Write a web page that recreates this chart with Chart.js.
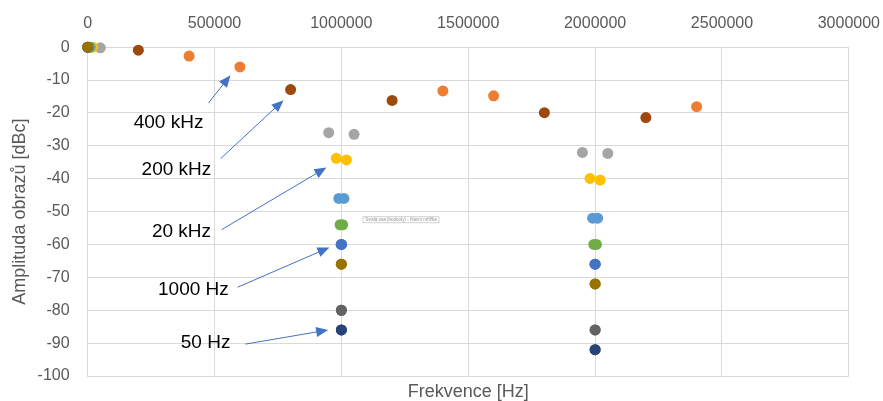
<!DOCTYPE html>
<html>
<head>
<meta charset="utf-8">
<script src="https://cdn.jsdelivr.net/npm/chart.js@4.4.1/dist/chart.umd.min.js"></script>
<style>
  html, body { margin: 0; padding: 0; background: #fff; }
  #wrap { width: 883px; height: 401px; }
</style>
</head>
<body>
<div id="wrap"><canvas id="Chart"></canvas></div>
<script>
// frequency [Hz] and image amplitude [dBc] per modulating frequency
var f1000x = [1000, 999000, 1001000, 1999000, 2001000];
var f1000y = [0, -60, -60, -66, -66];
var f400kx = [400000, 600000, 1400000, 1600000, 2400000];
var f400ky = [-2.7, -6, -13.3, -14.8, -18.1];
var f50kx = [50000, 950000, 1050000, 1950000, 2050000];
var f50ky = [-0.2, -26, -26.5, -32, -32.3];
var f20kx = [20000, 980000, 1020000, 1980000, 2020000];
var f20ky = [0, -33.8, -34.3, -39.9, -40.4];
var f10kx = [10000, 990000, 1010000, 1990000, 2010000];
var f10ky = [0, -46, -46, -52, -52];
var f5kx = [5000, 995000, 1005000, 1995000, 2005000];
var f5ky = [0, -54, -54, -60, -60];
var f50x = [50, 999950, 1000050, 1999950, 2000050];
var f50y = [0, -86, -86, -92, -92];
var f200kx = [200000, 800000, 1200000, 1800000, 2200000];
var f200ky = [-0.9, -12.9, -16.2, -19.9, -21.4];
var f100x = [100, 999900, 1000100, 1999900, 2000100];
var f100y = [0, -80, -80, -86, -86];
var f500x = [500, 999500, 1000500, 1999500, 2000500];
var f500y = [0, -66, -66, -72, -72];

var xTicks = [0, 500000, 1000000, 1500000, 2000000, 2500000, 3000000];
var yTicks = [0, -10, -20, -30, -40, -50, -60, -70, -80, -90, -100];

var colors = ['#4472C4', '#ED7D31', '#A5A5A5', '#FFC000', '#5B9BD5',
              '#70AD47', '#264478', '#9E480E', '#636363', '#997300'];

// labels with arrows, in data units: text point, arrow start, arrow tip
var noteText = ['400 kHz', '200 kHz', '20 kHz', '1000 Hz', '50 Hz'];
var noteAt = [[319000, -23], [350000, -37.3], [370000, -56.1], [417000, -73.9], [465000, -90]];
var noteFrom = [[476000, -17], [524000, -33.9], [528000, -55.5], [591000, -73], [622000, -90.3]];
var noteTo = [[563000, -8.5], [772000, -16.1], [941000, -36.6], [953000, -60.9], [948000, -86]];

function pts(xs, ys) {
    return xs.map(function(x, i) { return {x: x, y: ys[i]}; });
}

var series = [
    pts(f1000x, f1000y), pts(f400kx, f400ky), pts(f50kx, f50ky), pts(f20kx, f20ky),
    pts(f10kx, f10ky), pts(f5kx, f5ky), pts(f50x, f50y), pts(f200kx, f200ky),
    pts(f100x, f100y), pts(f500x, f500y)
];

var FONT = '"Liberation Sans", Arial, sans-serif';

var notesPlugin = {
    id: 'notes',
    afterDatasetsDraw: function(chart) {
        var c = chart.ctx, sx = chart.scales.x, sy = chart.scales.y;
        c.save();
        for (var i = 0; i < noteText.length; i++) {
            var x0 = sx.getPixelForValue(noteFrom[i][0]), y0 = sy.getPixelForValue(noteFrom[i][1]);
            var x1 = sx.getPixelForValue(noteTo[i][0]), y1 = sy.getPixelForValue(noteTo[i][1]);
            var a = Math.atan2(y1 - y0, x1 - x0);
            c.strokeStyle = '#4472C4';
            c.fillStyle = '#4472C4';
            c.lineWidth = 1;
            c.beginPath();
            c.moveTo(x0, y0);
            c.lineTo(x1 - 10 * Math.cos(a), y1 - 10 * Math.sin(a));
            c.stroke();
            c.beginPath();
            c.moveTo(x1, y1);
            c.lineTo(x1 - 12 * Math.cos(a) + 5 * Math.sin(a), y1 - 12 * Math.sin(a) - 5 * Math.cos(a));
            c.lineTo(x1 - 12 * Math.cos(a) - 5 * Math.sin(a), y1 - 12 * Math.sin(a) + 5 * Math.cos(a));
            c.closePath();
            c.fill();
            c.fillStyle = '#000';
            c.font = '19px ' + FONT;
            c.textAlign = 'center';
            c.textBaseline = 'middle';
            c.fillText(noteText[i], sx.getPixelForValue(noteAt[i][0]), sy.getPixelForValue(noteAt[i][1]));
        }
        // leftover hover hint from the source picture
        var hx = sx.getPixelForValue(1235000), hy = sy.getPixelForValue(-52.5);
        c.fillStyle = '#fff';
        c.fillRect(hx - 38, hy - 3, 76, 6);
        c.strokeStyle = '#b0b0b0';
        c.lineWidth = 0.6;
        c.strokeRect(hx - 38, hy - 3, 76, 6);
        c.fillStyle = '#909090';
        c.font = '4.5px ' + FONT;
        c.fillText('Svislá osa (hodnoty) - hlavní mřížka', hx, hy + 0.3);
        c.restore();
    }
};

const ctx = document.getElementById('Chart');
var graphData = {
    type: 'scatter',
    data: {
        datasets: series.map(function(d, i) {
            return {
                data: d,
                backgroundColor: colors[i],
                borderColor: colors[i],
                borderWidth: 0,
                pointRadius: 5.5,
                pointHoverRadius: 5.5,
                clip: false,
                order: series.length - i   // later series on top, like the source
            };
        })
    },
    options: {
        responsive: true,
        maintainAspectRatio: false,
        animation: false,
        events: [],
        layout: { autoPadding: false, padding: { top: 11, left: 5, right: 0, bottom: -2 } },
        plugins: { legend: { display: false }, tooltip: { enabled: false } },
        scales: {
            x: {
                type: 'linear',
                position: 'top',
                min: 0,
                max: 3000000,
                afterBuildTicks: function(s) { s.ticks = xTicks.map(function(v) { return {value: v}; }); },
                ticks: {
                    color: '#595959',
                    font: { family: FONT, size: 16 },
                    padding: 3,
                    maxRotation: 0,
                    callback: function(v) { return String(v); }
                },
                grid: { color: '#d9d9d9', tickLength: 11, tickColor: 'rgba(0,0,0,0)' },
                border: { color: '#d9d9d9' }
            },
            x2: {
                type: 'linear',
                position: 'bottom',
                min: 0,
                max: 3000000,
                ticks: { display: false },
                grid: { display: false, drawTicks: false },
                border: { display: false },
                title: {
                    display: true,
                    text: 'Frekvence [Hz]',
                    color: '#595959',
                    font: { family: FONT, size: 18 },
                    padding: { top: 5.4, bottom: 0 }
                }
            },
            y: {
                min: -100,
                max: 0,
                afterBuildTicks: function(s) { s.ticks = yTicks.map(function(v) { return {value: v}; }); },
                ticks: {
                    color: '#595959',
                    font: { family: FONT, size: 16 },
                    padding: 3
                },
                grid: { color: '#d9d9d9', tickLength: 15, tickColor: 'rgba(0,0,0,0)' },
                border: { color: '#d9d9d9' },
                title: {
                    display: true,
                    text: 'Amplituda obrazů [dBc]',
                    color: '#595959',
                    font: { family: FONT, size: 18 },
                    padding: { top: 4, bottom: 4 }
                }
            }
        }
    },
    plugins: [notesPlugin]
};
var myChart = new Chart(ctx, graphData);
</script>
</body>
</html>
